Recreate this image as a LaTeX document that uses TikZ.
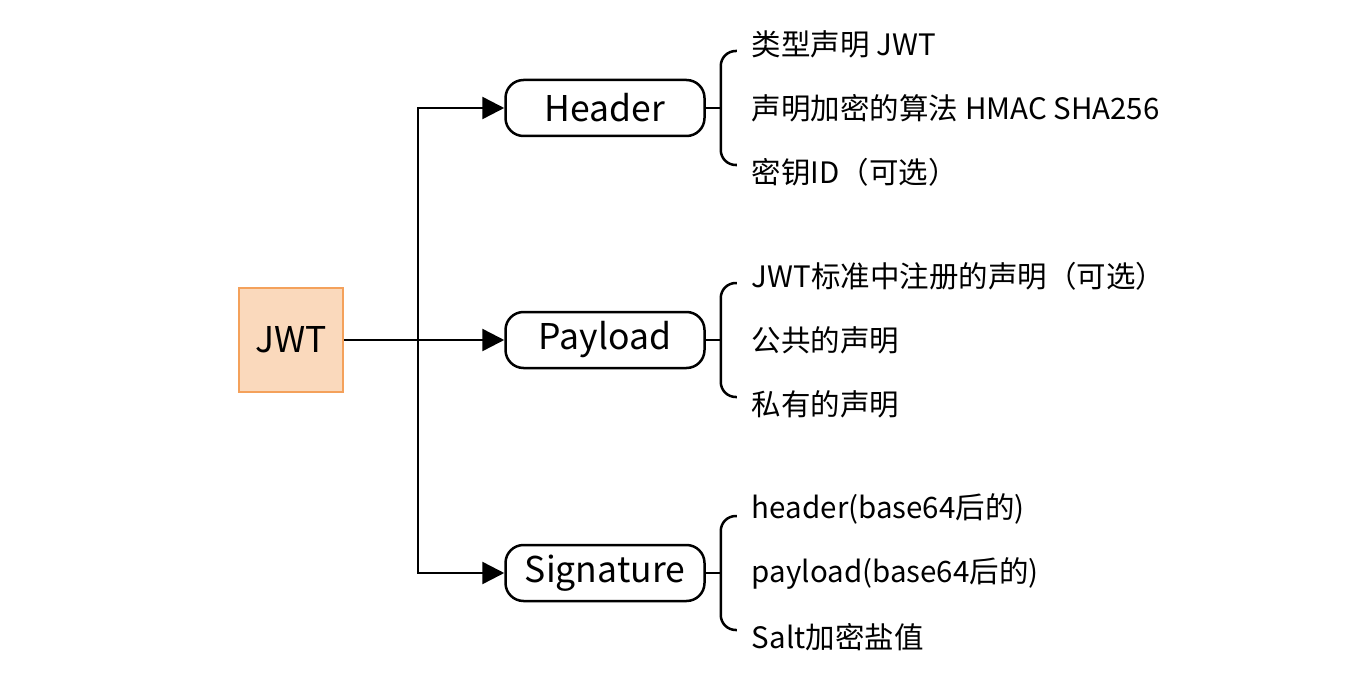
\documentclass[tikz,border=0pt]{standalone}
\usepackage{fontspec}
\setmainfont{Noto Sans CJK SC}
\usetikzlibrary{arrows.meta,positioning}
\definecolor{jwt-fill}{HTML}{FAD9BC}
\definecolor{jwt-line}{HTML}{F4A15B}
\tikzset{
    root-box/.style = {draw=jwt-line, fill=jwt-fill, line width=2.5pt, minimum width=104pt, minimum height=104pt, font=\fontsize{35.5}{40}\selectfont},
    part-box/.style = {draw, line width=2.5pt, rounded corners=18pt, minimum width=199pt, minimum height=56pt, font=\fontsize{35.5}{40}\selectfont},
    item-text/.style = {inner sep=0pt, anchor=west, font=\fontsize{29.5}{34}\selectfont},
    link/.style = {line width=2.5pt, -{Triangle[length=22pt,width=22pt]}},
    brace/.style = {line width=2.5pt, rounded corners=15pt},
}

\begin{document}
\begin{tikzpicture}[x=1pt, y=-1pt]
\useasboundingbox (0,0) rectangle (1352,682);

\node[root-box] (jwt) at (291,340) {JWT};
\node[part-box] (header) at (605,108) {Header};
\node[part-box] (payload) at (605,340) {Payload};
\node[part-box] (signature) at (605,573) {Signature};

% trunk
\coordinate (split) at (418,340);
\draw[link] (jwt) -- (payload);
\draw[link] (split) |- (header);
\draw[link] (split) |- (signature);

% header
\node[item-text, right=46pt of header] (header-2) {声明加密的算法 HMAC SHA256};
\node[item-text, yshift=64pt] (header-1) at (header-2.west) {类型声明 JWT};
\node[item-text, yshift=-64pt] (header-3) at (header-2.west) {密钥ID（可选）};
\coordinate (header-b) at ([xshift=15pt]header.east);
\draw[line width=2.5pt] (header) -- (header-b);
\draw[brace] ([xshift=16pt,yshift=57pt]header-b) -| ([yshift=-57pt]header-b) -- ++(16,0);

% payload
\node[item-text, right=46pt of payload] (payload-2) {公共的声明};
\node[item-text, yshift=64pt] (payload-1) at (payload-2.west) {JWT标准中注册的声明（可选）};
\node[item-text, yshift=-64pt] (payload-3) at (payload-2.west) {私有的声明};
\coordinate (payload-b) at ([xshift=15pt]payload.east);
\draw[line width=2.5pt] (payload) -- (payload-b);
\draw[brace] ([xshift=16pt,yshift=57pt]payload-b) -| ([yshift=-57pt]payload-b) -- ++(16,0);

% signature
\node[item-text, right=46pt of signature] (signature-2) {payload(base64后的)};
\node[item-text, yshift=64pt] (signature-1) at (signature-2.west) {header(base64后的)};
\node[item-text, yshift=-64pt] (signature-3) at (signature-2.west) {Salt加密盐值};
\coordinate (signature-b) at ([xshift=15pt]signature.east);
\draw[line width=2.5pt] (signature) -- (signature-b);
\draw[brace] ([xshift=16pt,yshift=57pt]signature-b) -| ([yshift=-57pt]signature-b) -- ++(16,0);
\end{tikzpicture}
\end{document}
